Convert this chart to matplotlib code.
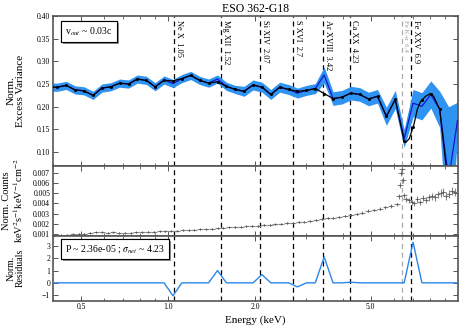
import matplotlib
matplotlib.use('Agg')
import matplotlib.pyplot as plt
import matplotlib.patheffects as pe
import matplotlib.transforms as mtransforms
from matplotlib.ticker import FixedLocator, FormatStrFormatter, NullFormatter, MultipleLocator
import numpy as np

plt.rcParams['font.family'] = ['Liberation Serif', 'DejaVu Serif']
plt.rcParams['mathtext.fontset'] = 'stix'

# energy bins of the variance spectrum (keV)
bin_energy = [0.386, 0.414, 0.444, 0.477, 0.512, 0.550, 0.590, 0.633, 0.679, 0.729,
              0.782, 0.840, 0.901, 0.967, 1.038, 1.114, 1.196, 1.284, 1.378, 1.479,
              1.587, 1.703, 1.828, 1.962, 2.106, 2.259, 2.425, 2.603, 2.793, 2.998,
              3.218, 3.453, 3.706, 3.978, 4.269, 4.581, 4.917, 5.277, 5.663, 6.078,
              6.523, 7.000, 7.513, 8.063, 8.653, 9.290, 9.970]

# measured normalised excess variance and its error
excess_var = [0.243, 0.243, 0.247, 0.237, 0.235, 0.225, 0.241, 0.244, 0.252, 0.250,
              0.261, 0.258, 0.244, 0.259, 0.251, 0.262, 0.269, 0.258, 0.252, 0.261,
              0.245, 0.238, 0.234, 0.248, 0.243, 0.227, 0.243, 0.238, 0.230, 0.236,
              0.240, 0.270, 0.218, 0.221, 0.230, 0.227, 0.217, 0.223, 0.179, 0.216,
              0.130, 0.208, 0.201, 0.227, 0.194, 0.040, 0.170]
excess_err = [0.009, 0.009, 0.009, 0.009, 0.009, 0.009, 0.009, 0.009, 0.009, 0.009,
              0.009, 0.009, 0.009, 0.009, 0.009, 0.009, 0.009, 0.009, 0.009, 0.009,
              0.009, 0.009, 0.011, 0.011, 0.011, 0.011, 0.011, 0.011, 0.011, 0.011,
              0.011, 0.018, 0.015, 0.015, 0.015, 0.015, 0.015, 0.015, 0.020, 0.020,
              0.020, 0.030, 0.030, 0.030, 0.040, 0.160, 0.040]

# model (black) at the bins
model_var = [0.243, 0.243, 0.247, 0.237, 0.235, 0.225, 0.241, 0.244, 0.252, 0.250,
             0.261, 0.258, 0.244, 0.258, 0.257, 0.262, 0.269, 0.258, 0.252, 0.255,
             0.245, 0.238, 0.234, 0.248, 0.243, 0.227, 0.243, 0.238, 0.234, 0.236,
             0.240, 0.229, 0.218, 0.221, 0.230, 0.227, 0.217, 0.223, 0.179, 0.216,
             0.124, 0.155, 0.215, 0.229, 0.194, 0.020, 0.000]
# extra model samples for the smooth Fe dip
model_extra_energy = [6.60, 6.80, 7.05, 7.24, 7.44, 7.74, 8.03, 8.26]
model_extra_var = [0.121, 0.130, 0.161, 0.194, 0.212, 0.223, 0.229, 0.222]

# residuals of the variance fit
residuals = [0, 0, 0, 0, 0, 0, 0, 0, 0, 0,
             0, 0, 0, 0, -1.05, 0, 0, 0, 0, 1.0,
             0, 0, 0, 0, 0.67, 0, 0, 0, -0.33, 0,
             0, 2.1, 0, 0, 0.05, 0, 0, 0, 0, 0,
             0, 3.3, 0, 0, 0, 0, 0]

# counts spectrum (units of 1e-3 keV^2 s^-1 keV^-1 cm^-2)
count_energy = [0.407, 0.427, 0.447, 0.468, 0.490, 0.513, 0.537, 0.562, 0.589, 0.617,
                0.646, 0.676, 0.708, 0.741, 0.776, 0.813, 0.851, 0.891, 0.933, 0.977,
                1.023, 1.072, 1.122, 1.175, 1.230, 1.288, 1.349, 1.413, 1.479, 1.549,
                1.622, 1.698, 1.778, 1.862, 1.950, 2.042, 2.138, 2.239, 2.344, 2.455,
                2.570, 2.692, 2.818, 2.951, 3.090, 3.236, 3.388, 3.548, 3.715, 3.890,
                4.074, 4.266, 4.467, 4.677, 4.898, 5.129, 5.370, 5.623, 5.888, 6.166,
                6.25, 6.33, 6.38, 6.41, 6.45, 6.52, 6.60, 6.761, 6.92, 7.079,
                7.25, 7.413, 7.59, 7.762, 7.94, 8.128, 8.32, 8.511, 8.71, 8.913,
                9.12, 9.333, 9.55, 9.772]
counts = [0.85, 0.88, 0.92, 0.95, 1.00, 1.03, 1.12, 1.15, 1.16, 1.14,
          1.15, 1.12, 1.13, 1.12, 1.15, 1.18, 1.22, 1.24, 1.26, 1.27,
          1.30, 1.33, 1.36, 1.38, 1.41, 1.44, 1.47, 1.50, 1.55, 1.60,
          1.64, 1.68, 1.71, 1.74, 1.77, 1.80, 1.86, 1.90, 1.95, 2.00,
          2.05, 2.11, 2.17, 2.22, 2.30, 2.36, 2.45, 2.52, 2.60, 2.68,
          2.80, 2.88, 2.98, 3.10, 3.28, 3.35, 3.48, 3.62, 3.75, 3.90,
          4.7, 5.8, 7.0, 7.4, 6.3, 4.8, 4.4, 4.3, 4.1, 4.0,
          4.4, 4.1, 4.5, 4.3, 4.6, 4.7, 4.6, 4.9, 5.0, 5.1,
          4.7, 4.9, 5.2, 5.1]
counts_err = [0.05, 0.05, 0.05, 0.05, 0.05, 0.05, 0.05, 0.05, 0.05, 0.05,
              0.05, 0.05, 0.05, 0.05, 0.05, 0.05, 0.05, 0.05, 0.05, 0.05,
              0.05, 0.05, 0.05, 0.05, 0.05, 0.05, 0.06, 0.06, 0.06, 0.06,
              0.06, 0.06, 0.06, 0.06, 0.07, 0.07, 0.07, 0.07, 0.07, 0.07,
              0.08, 0.08, 0.08, 0.08, 0.09, 0.09, 0.09, 0.10, 0.10, 0.10,
              0.11, 0.11, 0.12, 0.12, 0.13, 0.13, 0.14, 0.15, 0.16, 0.17,
              0.25, 0.28, 0.30, 0.30, 0.28, 0.25, 0.22, 0.22, 0.25, 0.25,
              0.28, 0.28, 0.30, 0.30, 0.32, 0.32, 0.35, 0.35, 0.38, 0.38,
              0.40, 0.40, 0.42, 0.42]

# known lines
line_energy = [1.05, 1.52, 2.07, 2.7, 3.42, 4.23, 6.9]
line_names = ['Ne X  1.05', 'Mg XII  1.52', 'Si XIV  2.07', 'S XVI  2.7',
              'Ar XVIII  3.42', 'Ca XX  4.23', 'Fe XXV  6.9']
feka_energy = 6.4
feka_name = 'Fe K-α  6.4'

band_color = '#2f93f2'
spine_color = '#555555'

fig = plt.figure(figsize=(4.63, 3.31), dpi=100)
left, width = 0.1145, 0.8745
ax1 = fig.add_axes([left, 0.4994, width, 0.4523])
ax2 = fig.add_axes([left, 0.287, width, 0.2124])
ax3 = fig.add_axes([left, 0.0915, width, 0.1955])

E = np.array(bin_energy)
ev = np.array(excess_var)
ee = np.array(excess_err)

ax1.fill_between(E, ev - ee, ev + ee, color=band_color, lw=0, zorder=2)
ax1.plot(E, ev, color='#1515d0', lw=0.9, zorder=3)
mE = np.concatenate([E, model_extra_energy])
mV = np.concatenate([model_var, model_extra_var])
order = np.argsort(mE)
ax1.plot(mE[order], mV[order], color='black', lw=0.9, zorder=4)
ax1.plot(E, model_var, 'o', color='black', ms=1.2, zorder=5)
ax1.set_ylim(0.07, 0.40)
ax1.yaxis.set_major_locator(MultipleLocator(0.05))
ax1.yaxis.set_major_formatter(FormatStrFormatter('%.2f'))
ax1.set_ylabel('Norm.\nExcess Variance', fontsize=8, linespacing=1.0)
ax1.set_title('ESO 362-G18', fontsize=8.5, pad=3)

ce = np.array(count_energy)
xerr = ce * 0.023
ax2.errorbar(ce, np.array(counts) * 1e-3, yerr=np.array(counts_err) * 1e-3, xerr=xerr,
             fmt='+', ms=2, color='#555555', ecolor='#888888', elinewidth=0.8, mew=0.6, zorder=3)
ax2.set_ylim(0.0008, 0.0077)
ax2.yaxis.set_major_locator(MultipleLocator(0.001))
ax2.yaxis.set_major_formatter(FormatStrFormatter('%.3f'))
ax2.set_ylabel('Norm. Counts\nkeV$^2$s$^{-1}$keV$^{-1}$cm$^{-2}$', fontsize=7.5, linespacing=1.0)

ax3.plot(E, residuals, color='#2a86ea', lw=1.0, zorder=3)
ax3.set_ylim(-1.45, 3.8)
ax3.yaxis.set_major_locator(MultipleLocator(1))
ax3.set_ylabel('Norm.\nResiduals', fontsize=7, linespacing=1.0)
ax3.set_xlabel('Energy (keV)', fontsize=8, labelpad=3)

for ax in (ax1, ax2, ax3):
    ax.set_xscale('log')
    ax.set_xlim(0.4, 10.0)
    ax.xaxis.set_major_locator(FixedLocator([0.5, 1.0, 2.0, 5.0]))
    ax.xaxis.set_minor_locator(FixedLocator([0.4, 0.6, 0.7, 0.8, 0.9, 3, 4, 6, 7, 8, 9]))
    ax.xaxis.set_minor_formatter(NullFormatter())
    ax.tick_params(which='both', direction='in', top=True, right=True, labelsize=5.5,
                   color=spine_color, pad=2)
    ax.tick_params(which='major', length=3.5, width=0.7)
    ax.tick_params(which='minor', length=2, width=0.6)
    for s in ax.spines.values():
        s.set_color(spine_color)
        s.set_linewidth(1.2)
    for le in line_energy:
        ax.axvline(le, color='black', ls=(0, (4, 3)), lw=0.9, zorder=1)
    ax.axvline(feka_energy, color='#aaaaaa', ls=(0, (4, 3)), lw=0.9, zorder=1)
    ax.yaxis.set_label_coords(-0.07, 0.5)

ax1.xaxis.set_major_formatter(NullFormatter())
ax2.xaxis.set_major_formatter(NullFormatter())
ax3.xaxis.set_major_formatter(FormatStrFormatter('%.1f'))

trans = mtransforms.blended_transform_factory(ax1.transData, ax1.transAxes)
for le, name in zip(line_energy, line_names):
    ax1.text(le * 1.006, 0.975, name, rotation=270, ha='left', va='top',
             fontsize=6, transform=trans, zorder=6)
ax1.text(feka_energy * 1.006, 0.975, feka_name, rotation=270, ha='left', va='top',
         fontsize=5, color='#999999', transform=trans, zorder=6)

shadow = [pe.withSimplePatchShadow(offset=(1.5, -1.5), shadow_rgbFace='#888888', alpha=0.9),
          pe.Normal()]
t1 = ax1.text(0.03, 0.895, r'v$_{out}$ ~ 0.03c', transform=ax1.transAxes, fontsize=7,
              ha='left', va='center', zorder=7,
              bbox=dict(boxstyle='square,pad=0.45', fc='white', ec='black', lw=0.8))
t1.get_bbox_patch().set_path_effects(shadow)
t2 = ax3.text(0.03, 0.80, r'P ~ 2.36e-05 ; $\sigma_{net}$ ~ 4.23', transform=ax3.transAxes,
              fontsize=7, ha='left', va='center', zorder=7,
              bbox=dict(boxstyle='square,pad=0.4', fc='white', ec='black', lw=0.8))
t2.get_bbox_patch().set_path_effects(shadow)

fig.savefig('out.png', dpi=100)
